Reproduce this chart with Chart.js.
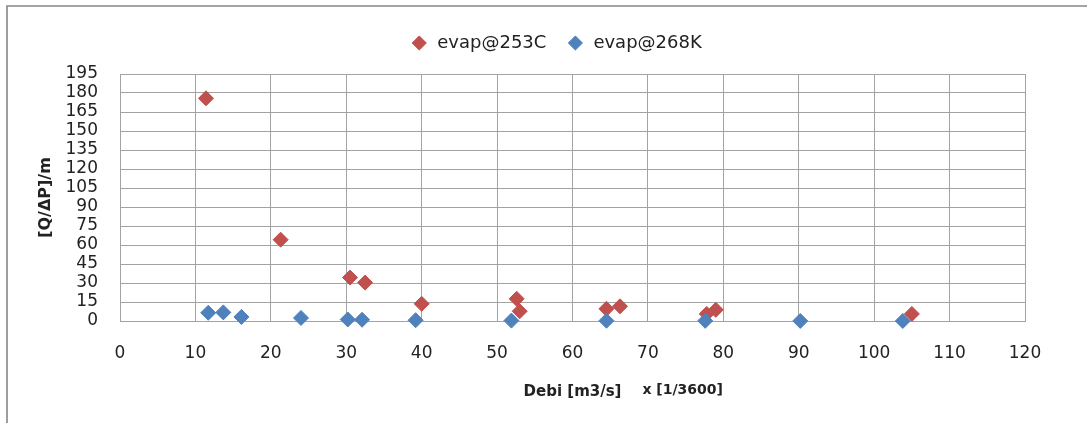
<!DOCTYPE html>
<html>
<head>
<meta charset="utf-8">
<script src="https://cdn.jsdelivr.net/npm/chart.js@4.4.0/dist/chart.umd.min.js"></script>
<style>
html,body{margin:0;padding:0;background:#fff;}
</style>
</head>
<body>
<canvas id="myChart" width="1087" height="423"></canvas>
<script>
// data
let debi253=[11.4,21.3,30.5,32.5,40.0,52.6,53.0,64.5,66.3,77.8,79.0,105.0];
let nilai253=[175.8,64.2,34.3,30.3,13.6,17.5,7.7,9.6,11.6,5.6,8.8,5.6];
let debi268=[11.7,13.7,16.1,24.0,30.2,32.1,39.2,51.9,64.5,77.6,90.2,103.8];
let nilai268=[6.5,6.8,3.2,2.4,1.2,1.0,0.6,0.3,0.2,0.1,0.05,0.03];
let ticksX=[0,10,20,30,40,50,60,70,80,90,100,110,120];
let ticksY=[0,15,30,45,60,75,90,105,120,135,150,165,180,195];

let merah='#C0504D';
let biru='#4F81BD';
let fontUtama="'DejaVu Sans', sans-serif";

function gabung(xs,ys){
    return xs.map(function(x,i){ return {x:x,y:ys[i]}; });
}

// bingkai abu-abu dan teks kecil di belakang judul sumbu x
let hiasan={
    id:'hiasan',
    beforeDraw:function(chart){
        let ctx=chart.ctx;
        ctx.save();
        ctx.fillStyle='#fff';
        ctx.fillRect(0,0,chart.width,chart.height);
        ctx.strokeStyle='#868686';
        ctx.lineWidth=1.6;
        ctx.beginPath();
        ctx.moveTo(7,chart.height);
        ctx.lineTo(7,6);
        ctx.lineTo(chart.width,6);
        ctx.stroke();
        ctx.restore();
    },
    afterDraw:function(chart){
        let sx=chart.scales.x;
        let ctx=chart.ctx;
        ctx.save();
        ctx.font="bold 15px "+fontUtama;
        let lebar=ctx.measureText('Debi [m3/s]').width;
        let tengah=(sx.left+sx.right)/2;
        ctx.font="bold 14px "+fontUtama;
        ctx.fillStyle='#222';
        ctx.textBaseline='middle';
        ctx.fillText('x [1/3600]',tengah+lebar/2+21,sx.bottom-33);
        ctx.restore();
    }
};

var ctx=document.getElementById('myChart').getContext('2d');
var chart=new Chart(ctx,{
    type:'scatter',
    data:{
        datasets:[
            {
                label:'evap@268K',
                data:gabung(debi268,nilai268),
                backgroundColor:biru,
                borderColor:biru,
                pointStyle:'rectRot',
                pointRadius:7.5,
                pointHoverRadius:7.5,
                clip:false
            },
            {
                label:'evap@253C',
                data:gabung(debi253,nilai253),
                backgroundColor:merah,
                borderColor:merah,
                pointStyle:'rectRot',
                pointRadius:7.5,
                pointHoverRadius:7.5,
                clip:false
            }
        ]
    },
    options:{
        responsive:false,
        animation:false,
        layout:{padding:{left:25,right:0,top:14,bottom:0}},
        plugins:{
            legend:{
                position:'top',
                labels:{
                    usePointStyle:true,
                    pointStyle:'rectRot',
                    boxHeight:10,
                    padding:20,
                    color:'#222',
                    font:{family:fontUtama,size:18},
                    sort:function(a,b){ return b.datasetIndex-a.datasetIndex; }
                }
            },
            subtitle:{
                display:true,
                text:'',
                weight:500,
                padding:0,
                font:{size:10}
            },
            tooltip:{enabled:false}
        },
        scales:{
            x:{
                type:'linear',
                min:0,
                max:120,
                afterBuildTicks:function(s){ s.ticks=ticksX.map(function(v){ return {value:v}; }); },
                afterFit:function(s){ s.height=102; },
                grid:{color:'#a3a3a3',drawTicks:false},
                border:{color:'#a3a3a3'},
                ticks:{padding:22,color:'#222',font:{family:fontUtama,size:17}},
                title:{
                    display:true,
                    text:'Debi [m3/s]',
                    color:'#222',
                    font:{family:fontUtama,size:15,weight:'bold'},
                    padding:{top:0,bottom:22}
                }
            },
            y:{
                min:0,
                max:195,
                afterBuildTicks:function(s){ s.ticks=ticksY.map(function(v){ return {value:v}; }); },
                afterFit:function(s){ s.width=95; },
                grid:{color:'#a3a3a3',drawTicks:false},
                border:{color:'#a3a3a3'},
                ticks:{padding:22,autoSkip:false,color:'#222',font:{family:fontUtama,size:17}},
                title:{
                    display:true,
                    text:'[Q/ΔP]/m',
                    color:'#222',
                    font:{family:fontUtama,size:16,weight:'bold'},
                    padding:{top:11,bottom:0}
                }
            },
            kanan:{
                position:'right',
                display:true,
                min:0,
                max:195,
                afterFit:function(s){ s.width=62; },
                grid:{display:false,drawTicks:false},
                border:{display:false},
                ticks:{display:false}
            }
        }
    },
    plugins:[hiasan]
});
</script>
</body>
</html>
